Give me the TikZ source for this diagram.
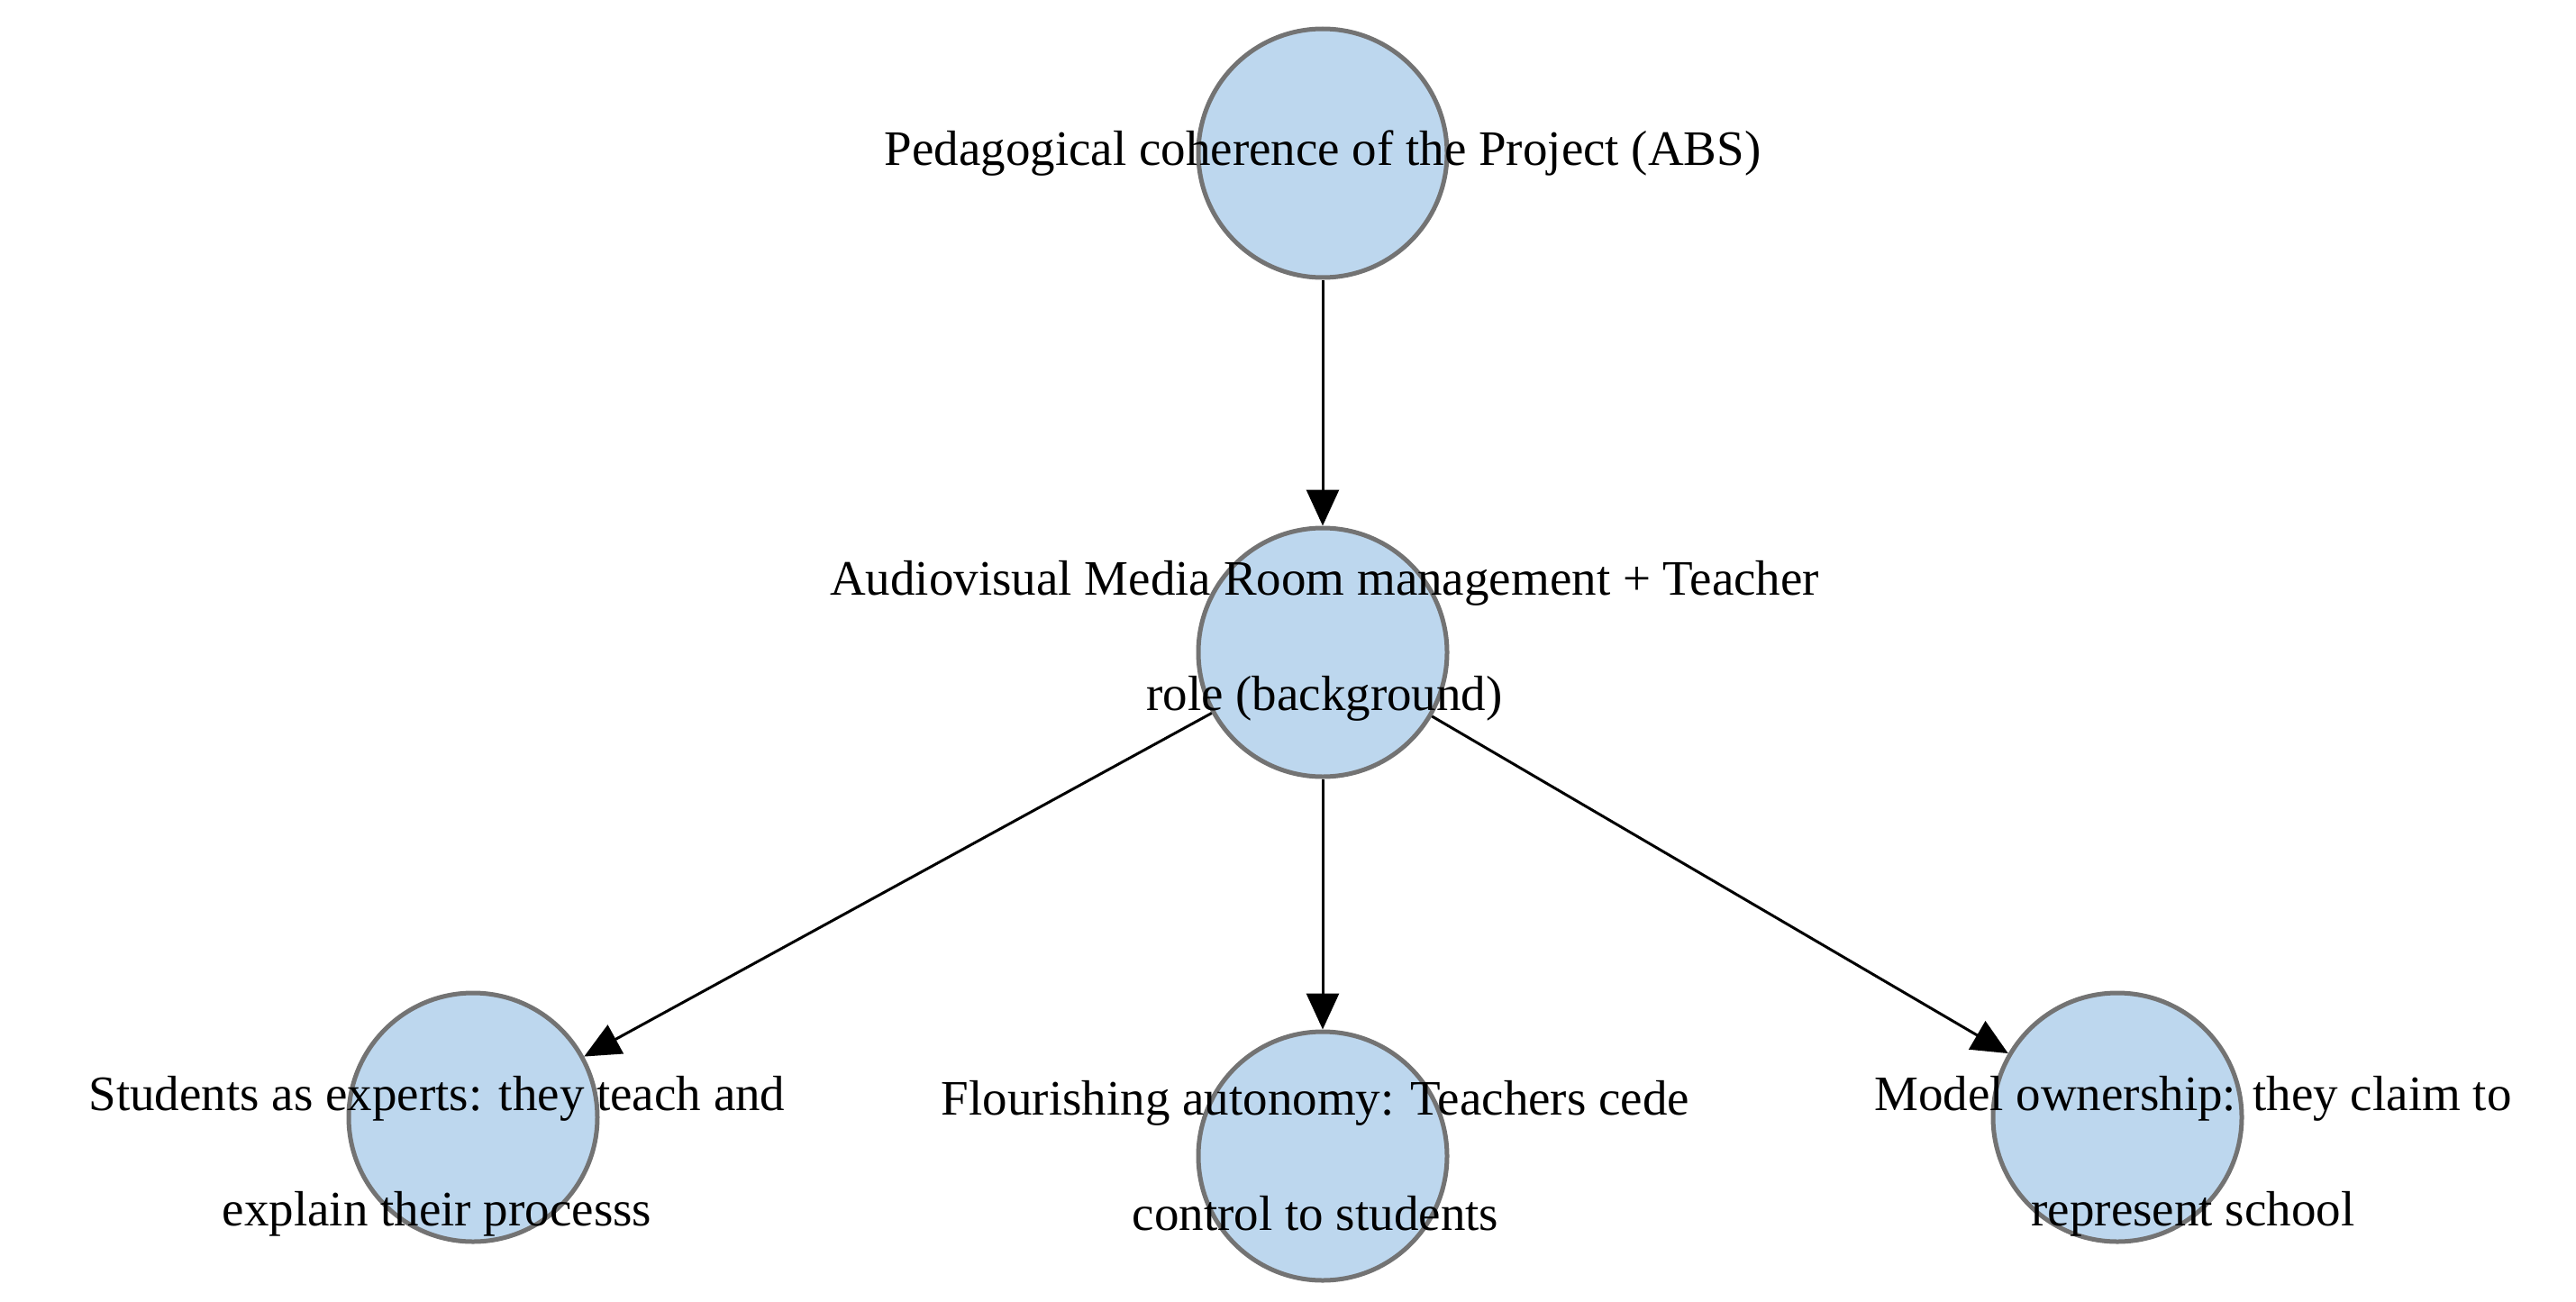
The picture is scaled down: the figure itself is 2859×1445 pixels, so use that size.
\documentclass[tikz,border=0pt]{standalone}
\usepackage{fontspec}
\setmainfont{Liberation Serif}
\usetikzlibrary{arrows.meta}
\begin{document}
\begin{tikzpicture}[x=1pt,y=-1pt,
  circ/.style={circle,draw=black!55,line width=5pt,fill={rgb,255:red,189;green,215;blue,238},minimum size=276pt,inner sep=0pt},
  lbl/.style={align=center,font=\fontsize{55}{128}\selectfont},
  arr/.style={line width=3pt,-{Triangle[length=40pt,width=36pt]}}]
\useasboundingbox (0,0) rectangle (2859,1445);
\node[circ] (a) at (1468,170) {};
\node[circ] (b) at (1468,724) {};
\node[circ] (c) at (525,1240) {};
\node[circ] (d) at (1468,1283) {};
\node[circ] (e) at (2350,1240) {};
\draw[arr] (a) -- (b);
\draw[arr] (b) -- (c);
\draw[arr] (b) -- (d);
\draw[arr] (b) -- (e);
\node[lbl] (ta) at (1468,170) {Pedagogical coherence of the Project (ABS)};
\node[lbl] (tb) at (1470,711) {Audiovisual Media Room management + Teacher\\role (background)};
\node[lbl] (tc) at (485,1283) {Students as experts: they teach and\\explain their processs};
\node[lbl] (td) at (1460,1283) {Flourishing autonomy: Teachers cede\\control to students};
\node[lbl] (te) at (2434,1283) {Model ownership: they claim to\\represent school};
\end{tikzpicture}
\end{document}
